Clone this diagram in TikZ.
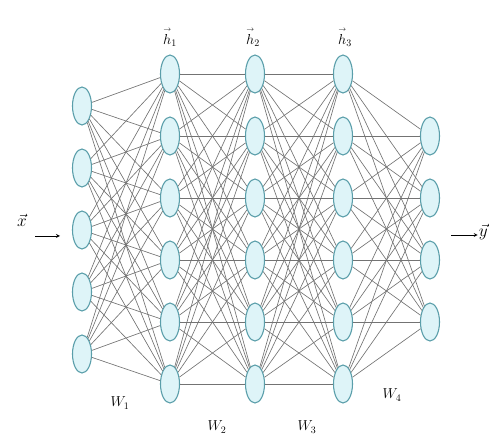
\documentclass[tikz,border=0pt]{standalone}
\usepackage{amsmath}
\usetikzlibrary{shapes.geometric}

\definecolor{cellline}{RGB}{90,158,170}
\definecolor{cellfill}{RGB}{222,244,248}
\newcommand{\arrvec}[1]{\overset{\scriptscriptstyle\rightarrow}{#1}}
\tikzstyle{neuron} = [draw=cellline, ellipse, fill=cellfill, line width=1.1pt, minimum width=19pt, minimum height=38pt, inner sep=0pt]
\tikzstyle{inout} = [rectangle, inner sep=1pt]
\tikzstyle{weight} = [draw=black!55, line width=0.65pt]

\begin{document}
\begin{tikzpicture}[x=1pt, y=1pt, node distance=62pt, >=stealth]
  \useasboundingbox (0,0) rectangle (489,439);

  % input layer
  \node[neuron] (x_1) at (82,333) {};
  \node[neuron, below of=x_1] (x_2) {};
  \node[neuron, below of=x_2] (x_3) {};
  \node[neuron, below of=x_3] (x_4) {};
  \node[neuron, below of=x_4] (x_5) {};

  % hidden layers
  \node[neuron] (h1_1) at (170,365) {};
  \node[neuron, below of=h1_1] (h1_2) {};
  \node[neuron, below of=h1_2] (h1_3) {};
  \node[neuron, below of=h1_3] (h1_4) {};
  \node[neuron, below of=h1_4] (h1_5) {};
  \node[neuron, below of=h1_5] (h1_6) {};

  \node[neuron] (h2_1) at (255,365) {};
  \node[neuron, below of=h2_1] (h2_2) {};
  \node[neuron, below of=h2_2] (h2_3) {};
  \node[neuron, below of=h2_3] (h2_4) {};
  \node[neuron, below of=h2_4] (h2_5) {};
  \node[neuron, below of=h2_5] (h2_6) {};

  \node[neuron] (h3_1) at (343,365) {};
  \node[neuron, below of=h3_1] (h3_2) {};
  \node[neuron, below of=h3_2] (h3_3) {};
  \node[neuron, below of=h3_3] (h3_4) {};
  \node[neuron, below of=h3_4] (h3_5) {};
  \node[neuron, below of=h3_5] (h3_6) {};

  % output layer
  \node[neuron] (y_1) at (430,303) {};
  \node[neuron, below of=y_1] (y_2) {};
  \node[neuron, below of=y_2] (y_3) {};
  \node[neuron, below of=y_3] (y_4) {};

  % labels
  \node[inout] (xin) at (22,219) {\LARGE $\vec{x}$};
  \coordinate (xtail) at (35,203);
  \coordinate (xtip) at (60,203);
  \node[inout, anchor=east] (yout) at (489,207) {\LARGE $\vec{y}$};
  \coordinate (ytail) at (451,204);

  \node[inout] (lh1) at (170,402) {\Large $\arrvec{h}_1$};
  \node[inout] (lh2) at (253,402) {\Large $\arrvec{h}_2$};
  \node[inout] (lh3) at (345,402) {\Large $\arrvec{h}_3$};

  \node[inout] (lw1) at (120,36) {\Large $W_1$};
  \node[inout] (lw2) at (217,12) {\Large $W_2$};
  \node[inout] (lw3) at (307,12) {\Large $W_3$};
  \node[inout] (lw4) at (392,44) {\Large $W_4$};

  % weights
  \foreach \i in {1,...,5}
    \foreach \j in {1,...,6}
      \draw[weight] (x_\i) -- (h1_\j);
  \foreach \i in {1,...,6}
    \foreach \j in {1,...,6}
      {\draw[weight] (h1_\i) -- (h2_\j);
       \draw[weight] (h2_\i) -- (h3_\j);}
  \foreach \i in {1,...,6}
    \foreach \j in {1,...,4}
      \draw[weight] (h3_\i) -- (y_\j);

  \draw [->, thick] (xtail) -- (xtip);
  \draw [->, thick] (ytail) -- (ytail -| yout.west);

\end{tikzpicture}
\end{document}
